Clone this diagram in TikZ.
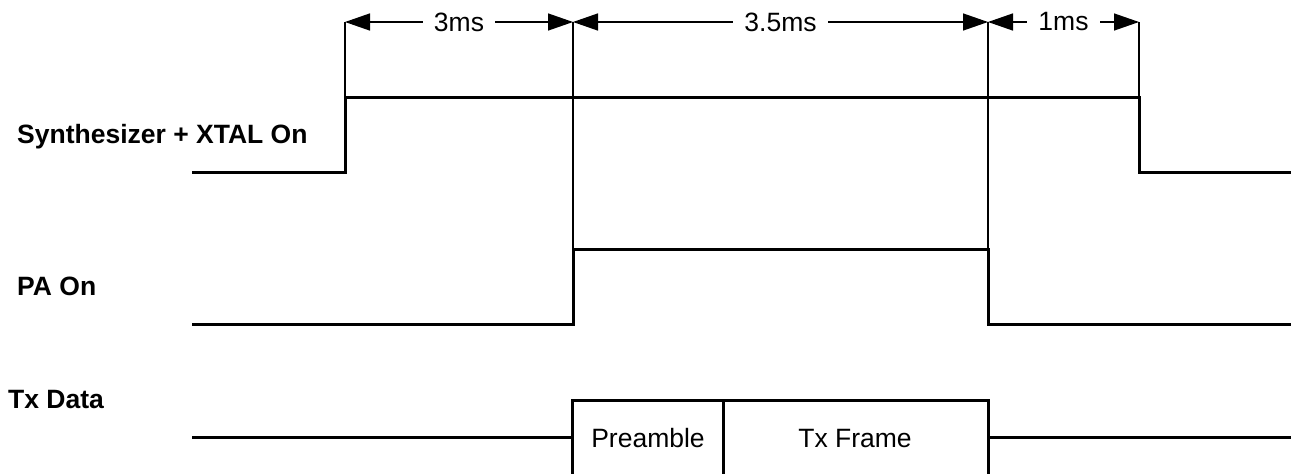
\documentclass[tikz,border=0pt]{standalone}
\usepackage{fontspec}
\setmainfont{Liberation Sans}
\usetikzlibrary{arrows.meta}
\begin{document}
\begin{tikzpicture}[x=1pt,y=-1pt,
  sig/.style={line width=3pt, line cap=rect, line join=miter},
  thin/.style={line width=1.4pt},
  dim/.style={line width=1.4pt, {Triangle[length=25pt,width=17pt]}-{Triangle[length=25pt,width=17pt]}},
  dimlabel/.style={fill=white, inner xsep=11pt, inner ysep=2pt, font=\fontsize{26.5}{30}\selectfont},
  siglabel/.style={anchor=base west, inner sep=0pt, font=\bfseries\fontsize{26.5}{30}\selectfont},
  boxlabel/.style={anchor=base, inner sep=0pt, font=\fontsize{26.5}{30}\selectfont}]
\useasboundingbox (0,0) rectangle (1291,474);
% time marks
\coordinate (t0) at (345,22);
\coordinate (t1) at (573,22);
\coordinate (t2) at (988,22);
\coordinate (t3) at (1139,22);
% signal 1
\coordinate (s1a) at (193,172);
\coordinate (s1b) at (345,172);
\coordinate (s1c) at (345,97);
\coordinate (s1d) at (1139,97);
\coordinate (s1e) at (1139,172);
\coordinate (s1f) at (1291,172);
% PA
\coordinate (s2a) at (193,324);
\coordinate (s2b) at (573,324);
\coordinate (s2c) at (573,249);
\coordinate (s2d) at (988,249);
\coordinate (s2e) at (988,324);
\coordinate (s2f) at (1291,324);
% Tx
\coordinate (s3a) at (193,437);
\coordinate (s3b) at (572,437);
\coordinate (s3c) at (988,437);
\coordinate (s3d) at (1291,437);
\coordinate (bxa) at (572,476);
\coordinate (bxb) at (572,400);
\coordinate (bxc) at (988,400);
\coordinate (bxd) at (988,476);
\coordinate (dva) at (723,400);
\coordinate (dvb) at (723,476);

% thin verticals
\draw[thin] (t0) -- (s1c);
\draw[thin] (t1) -- (s2c);
\draw[thin] (t2) -- (s2d);
\draw[thin] (t3) -- (s1d);

% dimension arrows
\draw[dim] (t0) -- node[dimlabel] (l1) {3ms} (t1);
\draw[dim] (t1) -- node[dimlabel] (l2) {3.5ms} (t2);
\draw[dim] (t2) -- node[dimlabel] (l3) {1ms} (t3);

% signals
\draw[sig] (s1a) -- (s1b) -- (s1c) -- (s1d) -- (s1e) -- (s1f);
\draw[sig] (s2a) -- (s2b) -- (s2c) -- (s2d) -- (s2e) -- (s2f);
\draw[sig] (s3a) -- (s3b);
\draw[sig] (s3c) -- (s3d);
\draw[sig, line cap=butt] (bxa) -- (bxb) -- (bxc) -- (bxd);
\draw[sig, line cap=butt] (dva) -- (dvb);

% labels
\node[siglabel] (n1) at (17,143) {Synthesizer + XTAL On};
\node[siglabel] (n2) at (17,295) {PA On};
\node[siglabel] (n3) at (8,408) {Tx Data};
\node[boxlabel] (pre) at (648,447) {Preamble};
\node[boxlabel] (frm) at (855,447) {Tx Frame};
\end{tikzpicture}
\end{document}
